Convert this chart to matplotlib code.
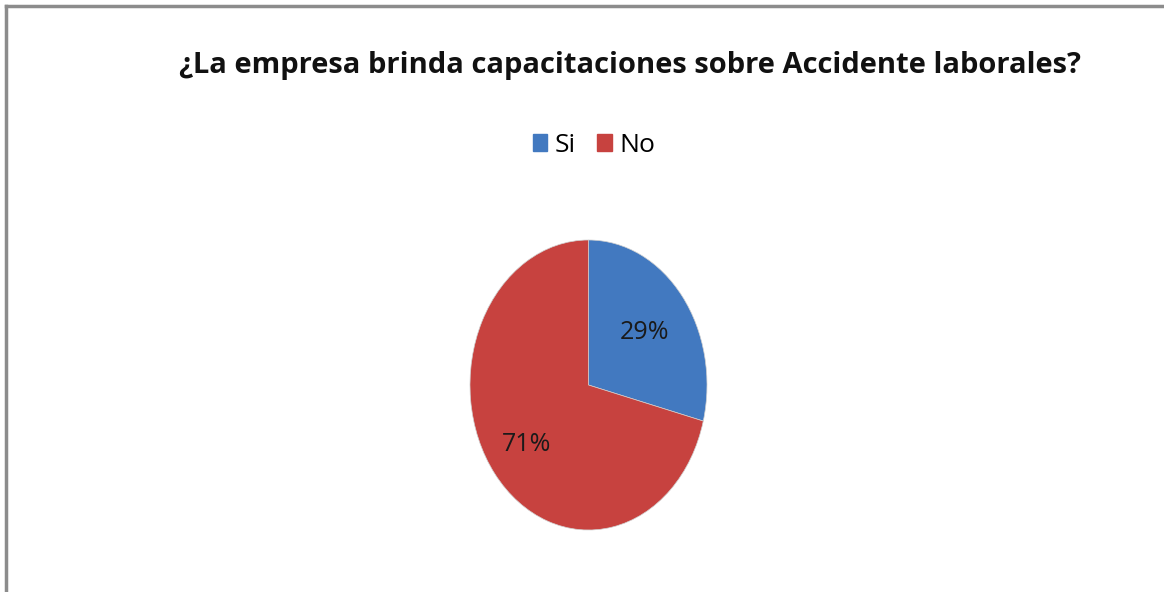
import matplotlib.pyplot as plt
from matplotlib.lines import Line2D
from matplotlib.patches import Patch

title = "¿La empresa brinda capacitaciones sobre Accidente laborales?"
labels = ["Si", "No"]
values = [29, 71]
colors = ["#4279C0", "#C7423F"]

plt.rcParams["font.family"] = ["Open Sans", "DejaVu Sans"]

fig = plt.figure(figsize=(11.64, 5.92), dpi=100)
fig.patch.set_facecolor("white")

# frame: only top and left edges show in the crop
fig.add_artist(Line2D([6 / 1164, 6 / 1164], [0, 1 - 6 / 592], transform=fig.transFigure,
                      color="#8c8c8c", lw=2.5))
fig.add_artist(Line2D([6 / 1164, 1], [1 - 6 / 592, 1 - 6 / 592], transform=fig.transFigure,
                      color="#8c8c8c", lw=2.5))

fig.text(630 / 1164, 1 - 66 / 592, title, ha="center", va="center",
         fontsize=21, fontweight="bold", color="#111111")

# pie is drawn squashed, as in the source
ax = fig.add_axes([470 / 1164, 62 / 592, 237 / 1164, 290 / 592])
wedges, texts = ax.pie(values, colors=colors, startangle=90, counterclock=False,
                       wedgeprops=dict(edgecolor="#d0d0d0", linewidth=0.5))
ax.set_aspect("auto")
ax.set_xlim(-1.0, 1.0)
ax.set_ylim(-1.0, 1.0)
ax.axis("off")

label_pos = [(0.47, 0.36), (-0.52, -0.41)]
for v, (x, y) in zip(values, label_pos):
    ax.text(x, y, f"{v}%", ha="center", va="center", fontsize=18, color="#1a1a1a")

handles = [Patch(facecolor=c, edgecolor=c) for c in colors]
fig.legend(handles, labels, loc="center", bbox_to_anchor=(594 / 1164, 1 - 145 / 592),
           ncol=2, frameon=False, fontsize=19, handlelength=0.55, handleheight=0.6,
           handletextpad=0.3, columnspacing=0.8)

fig.savefig("out.png", dpi=100)
